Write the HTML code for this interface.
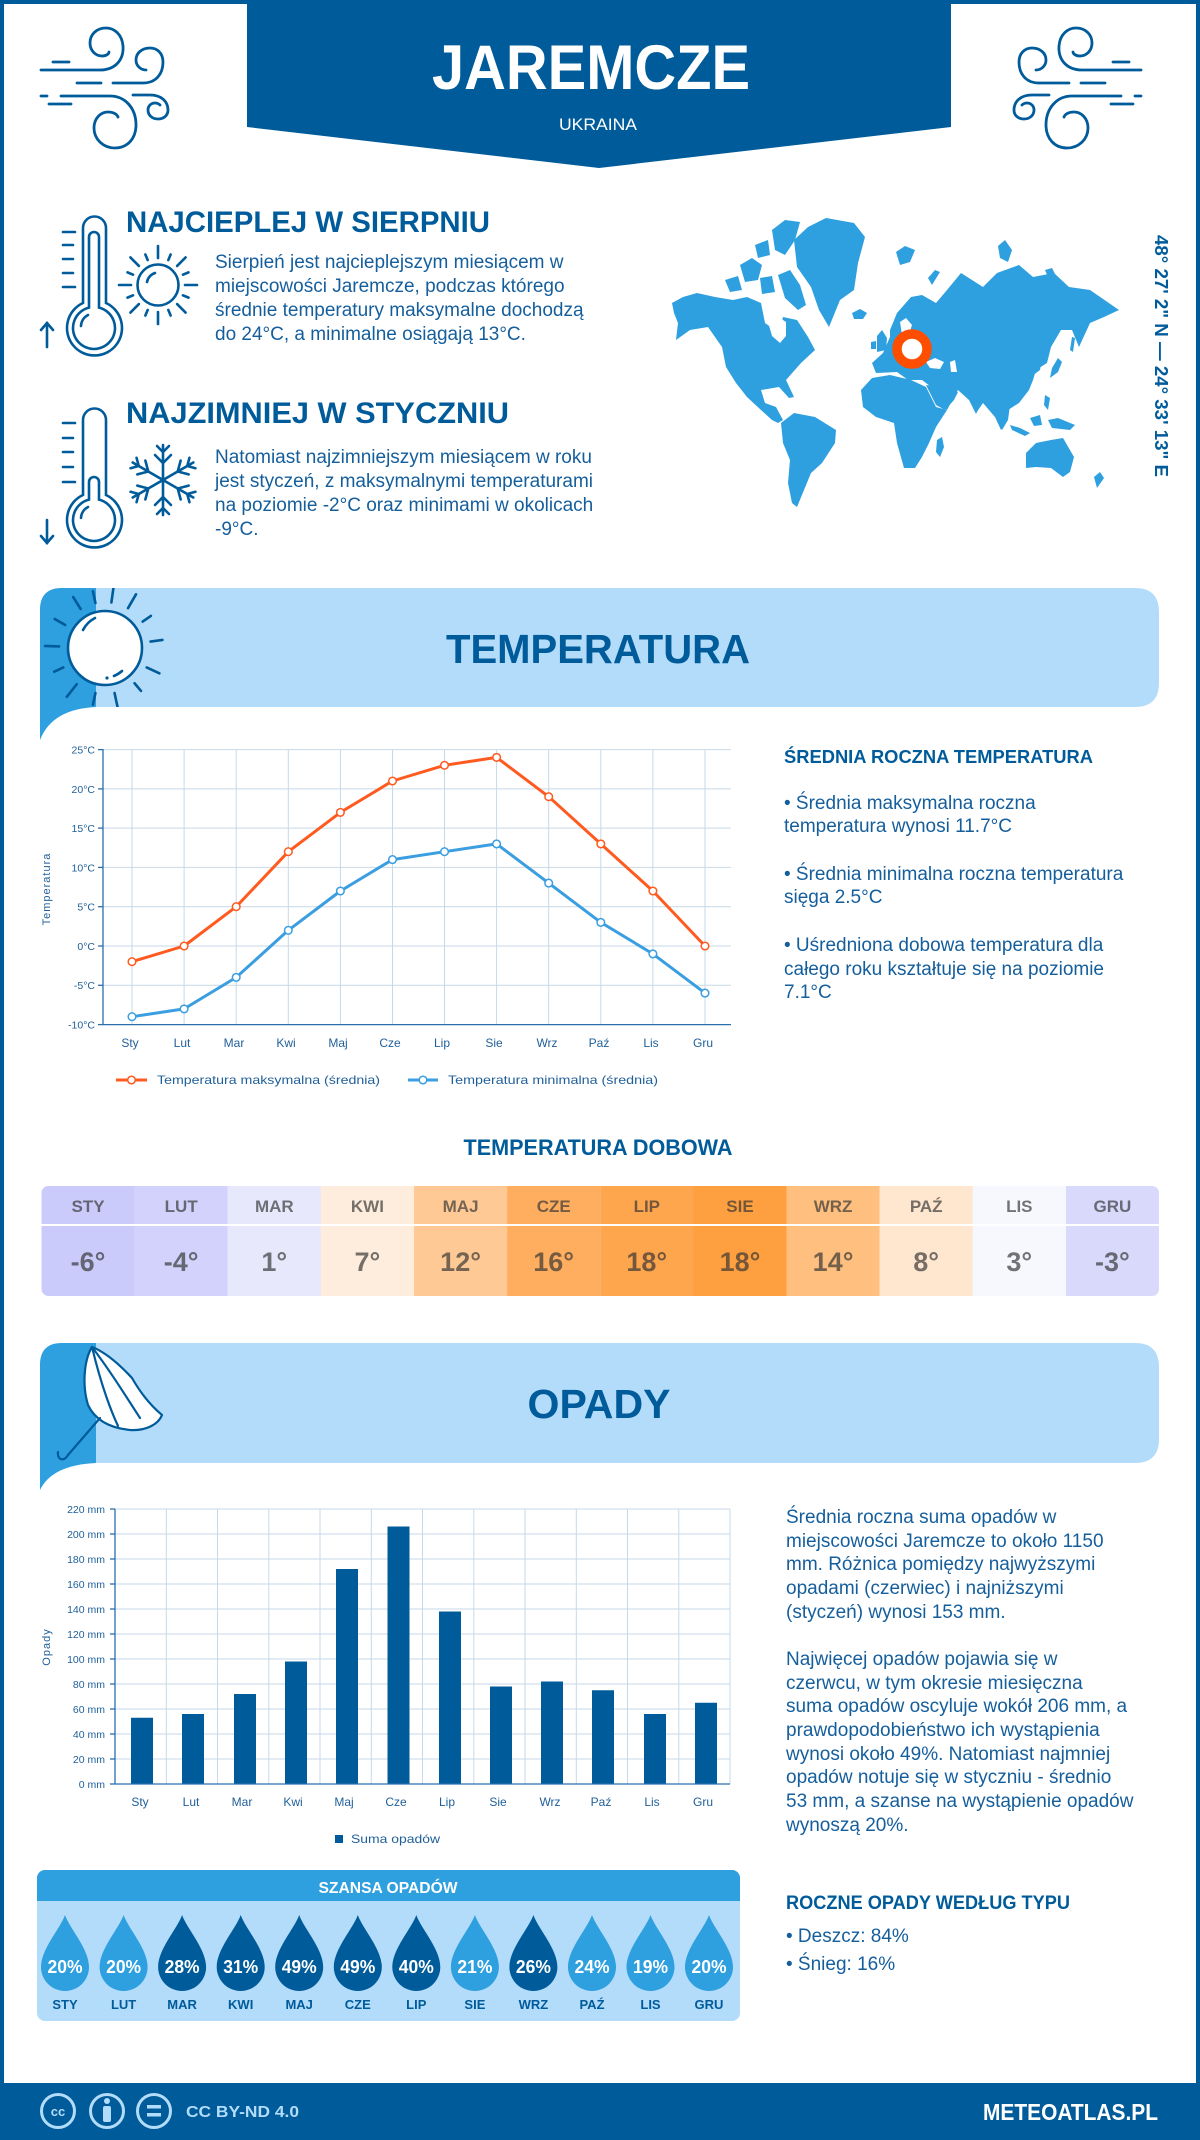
<!DOCTYPE html>
<html><head><meta charset="utf-8"><style>
html,body{margin:0;padding:0;background:#fff;}
svg{display:block;}
text{font-family:"Liberation Sans",sans-serif;}
</style></head><body>
<svg width="1200" height="2140" viewBox="0 0 1200 2140" xmlns="http://www.w3.org/2000/svg">
<rect x="0" y="0" width="1200" height="2140" fill="#fff"/>
<!-- frame -->
<rect x="0" y="0" width="1200" height="4" fill="#005b9a"/>
<rect x="0" y="0" width="4" height="2090" fill="#005b9a"/>
<rect x="1196" y="0" width="4" height="2090" fill="#005b9a"/>

<!-- header banner -->
<polygon points="247,0 951,0 951,127 599,168 247,127" fill="#005b9a"/>
<text x="591" y="89" font-size="63" font-weight="bold" fill="#fff" text-anchor="middle" textLength="318" lengthAdjust="spacingAndGlyphs">JAREMCZE</text>
<text x="598" y="130" font-size="16.5" fill="#fff" text-anchor="middle" textLength="78" lengthAdjust="spacingAndGlyphs">UKRAINA</text>

<!-- wind icons -->
<g fill="none" stroke="#005b9a" stroke-width="2.8" stroke-linecap="round">
<line x1="53" y1="62" x2="69" y2="62"/>
<path d="M41,70 L100,70 C115,70 124,60 123,46 C122,34 114,28 106,28 C96,28 90,35 90,43 C90,51 96,56 102,56 C106,56 109,54 109,52"/>
<line x1="77" y1="83" x2="101" y2="83"/>
<path d="M113,83 L143,83 C156,83 163,74 163,62 C163,53 157,48 150,48 C142,48 136,53 136,60 C136,66 141,70 146,70"/>
<line x1="41" y1="96" x2="47" y2="96"/>
<path d="M61,96 L110,96 C125,96 136,108 136,125 C136,139 127,148 115,148 C103,148 94,139 94,128 C94,118 101,112 108,112 C113,112 117,114 118,117"/>
<line x1="49" y1="104" x2="71" y2="104"/>
<path d="M133,95 L150,95 C162,95 168,102 168,110 C168,116 163,119 158,119 C152,119 148,115 148,110 C148,106 151,103 155,103 C157,103 159,104 160,105"/>
</g>
<g fill="none" stroke="#005b9a" stroke-width="2.8" stroke-linecap="round" transform="translate(1182,0) scale(-1,1)">
<line x1="53" y1="62" x2="69" y2="62"/>
<path d="M41,70 L100,70 C115,70 124,60 123,46 C122,34 114,28 106,28 C96,28 90,35 90,43 C90,51 96,56 102,56 C106,56 109,54 109,52"/>
<line x1="77" y1="83" x2="101" y2="83"/>
<path d="M113,83 L143,83 C156,83 163,74 163,62 C163,53 157,48 150,48 C142,48 136,53 136,60 C136,66 141,70 146,70"/>
<line x1="41" y1="96" x2="47" y2="96"/>
<path d="M61,96 L110,96 C125,96 136,108 136,125 C136,139 127,148 115,148 C103,148 94,139 94,128 C94,118 101,112 108,112 C113,112 117,114 118,117"/>
<line x1="49" y1="104" x2="71" y2="104"/>
<path d="M133,95 L150,95 C162,95 168,102 168,110 C168,116 163,119 158,119 C152,119 148,115 148,110 C148,106 151,103 155,103 C157,103 159,104 160,105"/>
</g>

<!-- thermometer 1 -->
<g fill="none" stroke="#005b9a" stroke-width="2.6" stroke-linecap="round">
<path d="M83,303 L83,228 A11.5,11.5 0 0 1 106,228 L106,303 A27.5,27.5 0 1 1 83,303 Z"/>
<path d="M89,307.6 L89,237 A5,5 0 0 1 99,237 L99,307.6 A21,21 0 1 1 89,307.6 Z"/>
<path d="M81,326 A13,13 0 0 1 88,315"/>
<line x1="63" y1="232" x2="75" y2="232"/><line x1="63" y1="245" x2="73" y2="245"/><line x1="63" y1="259" x2="73" y2="259"/><line x1="63" y1="273" x2="73" y2="273"/><line x1="63" y1="287" x2="75" y2="287"/>
<line x1="47" y1="347" x2="47" y2="323"/><polyline points="41,330 47,323 53,330"/>
</g>
<!-- sun 1 -->
<g fill="none" stroke="#005b9a" stroke-width="2.6" stroke-linecap="round">
<circle cx="158" cy="285" r="20.5"/>
<path d="M147,282 A12,12 0 0 1 155,273"/>
<line x1="158" y1="258" x2="158" y2="246"/>
<line x1="158" y1="258" x2="158" y2="246" transform="rotate(45 158 285)"/>
<line x1="158" y1="258" x2="158" y2="246" transform="rotate(90 158 285)"/>
<line x1="158" y1="258" x2="158" y2="246" transform="rotate(135 158 285)"/>
<line x1="158" y1="258" x2="158" y2="246" transform="rotate(180 158 285)"/>
<line x1="158" y1="258" x2="158" y2="246" transform="rotate(225 158 285)"/>
<line x1="158" y1="258" x2="158" y2="246" transform="rotate(270 158 285)"/>
<line x1="158" y1="258" x2="158" y2="246" transform="rotate(315 158 285)"/>
<line x1="158" y1="258" x2="158" y2="252" transform="rotate(22.5 158 285)"/>
<line x1="158" y1="258" x2="158" y2="252" transform="rotate(67.5 158 285)"/>
<line x1="158" y1="258" x2="158" y2="252" transform="rotate(112.5 158 285)"/>
<line x1="158" y1="258" x2="158" y2="252" transform="rotate(157.5 158 285)"/>
<line x1="158" y1="258" x2="158" y2="252" transform="rotate(202.5 158 285)"/>
<line x1="158" y1="258" x2="158" y2="252" transform="rotate(247.5 158 285)"/>
<line x1="158" y1="258" x2="158" y2="252" transform="rotate(292.5 158 285)"/>
<line x1="158" y1="258" x2="158" y2="252" transform="rotate(337.5 158 285)"/>
</g>
<text x="126" y="232" font-size="30" font-weight="bold" fill="#005b9a" textLength="364" lengthAdjust="spacingAndGlyphs">NAJCIEPLEJ W SIERPNIU</text>
<g font-size="19" fill="#155e9c">
<text x="215" y="268">Sierpień jest najcieplejszym miesiącem w</text>
<text x="215" y="292">miejscowości Jaremcze, podczas którego</text>
<text x="215" y="316">średnie temperatury maksymalne dochodzą</text>
<text x="215" y="340">do 24°C, a minimalne osiągają 13°C.</text>
</g>

<!-- thermometer 2 -->
<g fill="none" stroke="#005b9a" stroke-width="2.6" stroke-linecap="round">
<path d="M83,495 L83,420 A11.5,11.5 0 0 1 106,420 L106,495 A27.5,27.5 0 1 1 83,495 Z"/>
<path d="M89,499.6 L89,482 A5,5 0 0 1 99,482 L99,499.6 A21,21 0 1 1 89,499.6 Z"/>
<path d="M81,518 A13,13 0 0 1 88,507"/>
<line x1="63" y1="423" x2="75" y2="423"/><line x1="63" y1="438" x2="73" y2="438"/><line x1="63" y1="452" x2="73" y2="452"/><line x1="63" y1="467" x2="73" y2="467"/><line x1="63" y1="482" x2="75" y2="482"/>
<line x1="47" y1="520" x2="47" y2="543"/><polyline points="41,536 47,543 53,536"/>
</g>
<!-- snowflake -->
<g fill="none" stroke="#005b9a" stroke-width="2.6" stroke-linecap="round">
<g><line x1="163" y1="480" x2="163" y2="445"/><polyline points="155,455 163,463 171,455"/><polyline points="157,446 163,452 169,446"/></g>
<g transform="rotate(60 163 480)"><line x1="163" y1="480" x2="163" y2="445"/><polyline points="155,455 163,463 171,455"/><polyline points="157,446 163,452 169,446"/></g>
<g transform="rotate(120 163 480)"><line x1="163" y1="480" x2="163" y2="445"/><polyline points="155,455 163,463 171,455"/><polyline points="157,446 163,452 169,446"/></g>
<g transform="rotate(180 163 480)"><line x1="163" y1="480" x2="163" y2="445"/><polyline points="155,455 163,463 171,455"/><polyline points="157,446 163,452 169,446"/></g>
<g transform="rotate(240 163 480)"><line x1="163" y1="480" x2="163" y2="445"/><polyline points="155,455 163,463 171,455"/><polyline points="157,446 163,452 169,446"/></g>
<g transform="rotate(300 163 480)"><line x1="163" y1="480" x2="163" y2="445"/><polyline points="155,455 163,463 171,455"/><polyline points="157,446 163,452 169,446"/></g>
</g>
<text x="126" y="423" font-size="30" font-weight="bold" fill="#005b9a" textLength="383" lengthAdjust="spacingAndGlyphs">NAJZIMNIEJ W STYCZNIU</text>
<g font-size="19" fill="#155e9c">
<text x="215" y="463">Natomiast najzimniejszym miesiącem w roku</text>
<text x="215" y="487">jest styczeń, z maksymalnymi temperaturami</text>
<text x="215" y="511">na poziomie -2°C oraz minimami w okolicach</text>
<text x="215" y="535">-9°C.</text>
</g>

<!-- world map -->
<g fill="#2e9fdf">
<!-- North America -->
<path d="M672,303 L683,297 L697,293 L715,297 L733,300 L747,297 L761,303 L765,323 L779,333 L783,317 L797,320 L808,337 L815,350 L801,363 L786,380 L794,397 L789,398 L779,387 L761,390 L765,403 L776,407 L783,420 L778,423 L772,420 L761,410 L747,397 L736,383 L726,367 L722,347 L708,327 L690,330 L676,340 L678,323 L674,313 Z"/>
<!-- Arctic islands -->
<path d="M772,230 L785,220 L800,222 L795,240 L785,255 L775,250 Z"/>
<path d="M778,275 L790,270 L800,285 L806,305 L798,310 L785,298 Z"/>
<path d="M740,265 L752,258 L762,265 L758,280 L745,282 Z"/>
<path d="M725,280 L738,276 L742,290 L730,292 Z"/>
<path d="M760,278 L772,276 L775,292 L762,294 Z"/>
<path d="M755,245 L768,240 L770,255 L758,258 Z"/>
<!-- Greenland -->
<path d="M826,218 L854,223 L865,237 L858,263 L854,290 L840,300 L829,327 L819,310 L811,287 L797,267 L794,240 L808,227 Z"/>
<!-- Iceland -->
<path d="M852,313 L860,309 L867,313 L863,319 L854,319 Z"/>
<!-- UK / Ireland -->
<path d="M877,336 L882,330 L887,338 L886,350 L877,352 Z"/>
<path d="M871,342 L876,341 L876,349 L871,349 Z"/>
<!-- Eurasia -->
<path d="M890,330 L897,313 L911,297 L922,295 L936,303 L947,290 L961,273 L983,287 L997,273 L1019,265 L1033,277 L1054,273 L1069,287 L1090,290 L1119,310 L1104,317 L1090,323 L1079,347 L1072,330 L1061,330 L1051,347 L1047,363 L1036,370 L1033,380 L1029,390 L1019,403 L1008,410 L1004,423 L1001,430 L995,417 L983,403 L976,413 L969,397 L958,390 L954,397 L947,410 L936,403 L931,387 L926,383 L922,380 L908,380 L904,377 L897,372 L876,373 L872,363 L883,353 L890,337 Z"/>
<path d="M940,300 L1060,285 L1075,320 L1045,340 L1040,370 L1000,400 L960,385 L925,375 L910,340 Z"/>
<path d="M926,385 L945,388 L958,392 L954,400 L945,410 L936,405 Z"/>
<path d="M958,390 L975,392 L983,400 L976,414 L969,400 Z"/>
<path d="M995,400 L1010,405 L1008,420 L1002,430 L996,418 Z"/>
<!-- Africa -->
<path d="M861,390 L872,378 L890,375 L911,380 L926,387 L936,407 L947,410 L936,427 L929,443 L922,457 L915,468 L904,468 L897,443 L894,423 L876,417 L863,407 Z"/>
<path d="M937,440 L942,437 L944,447 L940,457 L936,452 Z"/>
<!-- South America -->
<path d="M781,423 L794,413 L815,417 L836,430 L835,443 L822,463 L811,473 L804,490 L797,507 L792,503 L788,483 L790,460 L783,443 Z"/>
<!-- Australia -->
<path d="M1026,453 L1036,443 L1051,440 L1063,438 L1074,457 L1070,472 L1063,477 L1051,468 L1036,467 L1026,468 Z"/>
<path d="M1094,477 L1100,472 L1104,478 L1097,488 Z"/>
<!-- Asia islands -->
<path d="M1010,425 L1020,428 L1030,433 L1025,436 L1012,430 Z"/>
<path d="M1030,418 L1040,415 L1042,425 L1034,426 Z"/>
<path d="M1048,420 L1058,418 L1075,425 L1070,430 L1052,428 Z"/>
<path d="M1045,395 L1050,398 L1048,410 L1044,405 Z"/>
<path d="M1052,368 L1058,358 L1062,362 L1058,372 L1050,378 Z"/>
<path d="M1072,337 L1075,338 L1073,352 L1070,350 Z"/>
<path d="M928,278 L935,270 L940,272 L932,285 Z"/>
<path d="M896,252 L905,246 L915,250 L910,262 L900,265 Z"/>
<path d="M998,246 L1005,240 L1012,250 L1008,262 L1000,258 Z"/>
<path d="M1045,270 L1052,268 L1056,276 L1048,277 Z"/>
</g>
<g fill="#fff">
<path d="M768,322 L780,318 L786,322 L786,336 L780,343 L772,336 Z"/>
<path d="M900,322 L906,318 L912,325 L908,338 L902,335 Z"/>
<path d="M926,362 L935,358 L944,362 L940,369 L930,368 Z"/>
<path d="M950,362 L955,360 L957,372 L951,372 Z"/>
</g>
<circle cx="912" cy="349" r="15" fill="#fff" stroke="#ff4e00" stroke-width="9.5"/>
<text transform="translate(1155,356) rotate(90)" x="0" y="0" font-size="18" font-weight="bold" fill="#005b9a" text-anchor="middle" textLength="242" lengthAdjust="spacingAndGlyphs">48° 27' 2" N — 24° 33' 13" E</text>

<!-- TEMPERATURA band -->
<path d="M40,740 L40,610 Q40,588 62,588 L1135,588 Q1159,588 1159,612 L1159,683 Q1159,707 1135,707 L96,707 Q50,707 40,740 Z" fill="#b3dcfb"/>
<path d="M40,740 L40,610 Q40,588 62,588 L96,588 L96,707 Q52,709 40,740 Z" fill="#2e9fdf"/>
<clipPath id="band1"><rect x="40" y="588" width="200" height="119"/></clipPath>
<g clip-path="url(#band1)" stroke="#005b9a" stroke-width="2.6" stroke-linecap="round" fill="none">
<line x1="105" y1="602" x2="105" y2="586" transform="rotate(8 105 648)"/>
<line x1="105" y1="602" x2="105" y2="590" transform="rotate(-12 105 648)"/>
<line x1="105" y1="602" x2="105" y2="586" transform="rotate(30 105 648)"/>
<line x1="105" y1="602" x2="105" y2="592" transform="rotate(55 105 648)"/>
<line x1="105" y1="602" x2="105" y2="590" transform="rotate(82 105 648)"/>
<line x1="105" y1="602" x2="105" y2="588" transform="rotate(115 105 648)"/>
<line x1="105" y1="602" x2="105" y2="592" transform="rotate(140 105 648)"/>
<line x1="105" y1="602" x2="105" y2="586" transform="rotate(168 105 648)"/>
<line x1="105" y1="602" x2="105" y2="590" transform="rotate(192 105 648)"/>
<line x1="105" y1="602" x2="105" y2="586" transform="rotate(218 105 648)"/>
<line x1="105" y1="602" x2="105" y2="592" transform="rotate(245 105 648)"/>
<line x1="105" y1="602" x2="105" y2="588" transform="rotate(272 105 648)"/>
<line x1="105" y1="602" x2="105" y2="590" transform="rotate(300 105 648)"/>
<line x1="105" y1="602" x2="105" y2="588" transform="rotate(328 105 648)"/>
</g>
<circle cx="105" cy="648" r="37" fill="#fff" stroke="#005b9a" stroke-width="2.6"/>
<path d="M83,630 A28,28 0 0 1 95,618" fill="none" stroke="#005b9a" stroke-width="2.6" stroke-linecap="round"/>
<path d="M114,676 A28,28 0 0 0 122,671" fill="none" stroke="#005b9a" stroke-width="2.6" stroke-linecap="round"/>
<circle cx="107" cy="678" r="1.6" fill="#005b9a"/>
<text x="598" y="663" font-size="41" font-weight="bold" fill="#005b9a" text-anchor="middle" textLength="304" lengthAdjust="spacingAndGlyphs">TEMPERATURA</text>

<!-- temperature chart -->
<g stroke="#c7d9e8" stroke-width="1">
<line x1="103" y1="749.6" x2="731" y2="749.6"/><line x1="103" y1="788.9" x2="731" y2="788.9"/><line x1="103" y1="828.1" x2="731" y2="828.1"/><line x1="103" y1="867.4" x2="731" y2="867.4"/><line x1="103" y1="906.7" x2="731" y2="906.7"/><line x1="103" y1="946" x2="731" y2="946"/><line x1="103" y1="985.3" x2="731" y2="985.3"/>
<line x1="132" y1="750" x2="132" y2="1025"/><line x1="184.1" y1="750" x2="184.1" y2="1025"/><line x1="236.2" y1="750" x2="236.2" y2="1025"/><line x1="288.3" y1="750" x2="288.3" y2="1025"/><line x1="340.4" y1="750" x2="340.4" y2="1025"/><line x1="392.5" y1="750" x2="392.5" y2="1025"/><line x1="444.5" y1="750" x2="444.5" y2="1025"/><line x1="496.6" y1="750" x2="496.6" y2="1025"/><line x1="548.7" y1="750" x2="548.7" y2="1025"/><line x1="600.8" y1="750" x2="600.8" y2="1025"/><line x1="652.9" y1="750" x2="652.9" y2="1025"/><line x1="705" y1="750" x2="705" y2="1025"/>
</g>
<g stroke="#2a6fad" stroke-width="1.3">
<line x1="103" y1="749" x2="103" y2="1025"/>
<line x1="103" y1="1024.6" x2="731" y2="1024.6"/>
<line x1="98" y1="749.6" x2="103" y2="749.6"/><line x1="98" y1="788.9" x2="103" y2="788.9"/><line x1="98" y1="828.1" x2="103" y2="828.1"/><line x1="98" y1="867.4" x2="103" y2="867.4"/><line x1="98" y1="906.7" x2="103" y2="906.7"/><line x1="98" y1="946" x2="103" y2="946"/><line x1="98" y1="985.3" x2="103" y2="985.3"/><line x1="98" y1="1024.6" x2="103" y2="1024.6"/>
</g>
<g font-size="10.5" fill="#1f5f99" text-anchor="end">
<text x="95" y="753.5">25°C</text><text x="95" y="792.8">20°C</text><text x="95" y="832">15°C</text><text x="95" y="871.3">10°C</text><text x="95" y="910.6">5°C</text><text x="95" y="950">0°C</text><text x="95" y="989.2">-5°C</text><text x="95" y="1028.5">-10°C</text>
</g>
<g font-size="12" fill="#1f5f99" text-anchor="middle">
<text x="130" y="1047">Sty</text><text x="182" y="1047">Lut</text><text x="234" y="1047">Mar</text><text x="286" y="1047">Kwi</text><text x="338" y="1047">Maj</text><text x="390" y="1047">Cze</text><text x="442" y="1047">Lip</text><text x="494" y="1047">Sie</text><text x="547" y="1047">Wrz</text><text x="599" y="1047">Paź</text><text x="651" y="1047">Lis</text><text x="703" y="1047">Gru</text>
</g>
<text transform="translate(50,889) rotate(-90)" font-size="11" fill="#1f5f99" text-anchor="middle" letter-spacing="1">Temperatura</text>
<polyline fill="none" stroke="#ff5a1f" stroke-width="3" stroke-linejoin="round" points="132,961.7 184.1,946 236.2,906.7 288.3,851.7 340.4,812.4 392.5,781 444.5,765.3 496.6,757.4 548.7,796.7 600.8,843.9 652.9,891 705,946"/>
<polyline fill="none" stroke="#3a9ee0" stroke-width="3" stroke-linejoin="round" points="132,1016.7 184.1,1008.9 236.2,977.4 288.3,930.3 340.4,891 392.5,859.6 444.5,851.7 496.6,843.9 548.7,883.1 600.8,922.4 652.9,953.9 705,993.1"/>
<g fill="#fff" stroke="#ff5a1f" stroke-width="1.5">
<circle cx="132" cy="961.7" r="3.8"/><circle cx="184.1" cy="946" r="3.8"/><circle cx="236.2" cy="906.7" r="3.8"/><circle cx="288.3" cy="851.7" r="3.8"/><circle cx="340.4" cy="812.4" r="3.8"/><circle cx="392.5" cy="781" r="3.8"/><circle cx="444.5" cy="765.3" r="3.8"/><circle cx="496.6" cy="757.4" r="3.8"/><circle cx="548.7" cy="796.7" r="3.8"/><circle cx="600.8" cy="843.9" r="3.8"/><circle cx="652.9" cy="891" r="3.8"/><circle cx="705" cy="946" r="3.8"/>
</g>
<g fill="#fff" stroke="#3a9ee0" stroke-width="1.5">
<circle cx="132" cy="1016.7" r="3.8"/><circle cx="184.1" cy="1008.9" r="3.8"/><circle cx="236.2" cy="977.4" r="3.8"/><circle cx="288.3" cy="930.3" r="3.8"/><circle cx="340.4" cy="891" r="3.8"/><circle cx="392.5" cy="859.6" r="3.8"/><circle cx="444.5" cy="851.7" r="3.8"/><circle cx="496.6" cy="843.9" r="3.8"/><circle cx="548.7" cy="883.1" r="3.8"/><circle cx="600.8" cy="922.4" r="3.8"/><circle cx="652.9" cy="953.9" r="3.8"/><circle cx="705" cy="993.1" r="3.8"/>
</g>
<line x1="116" y1="1080" x2="147" y2="1080" stroke="#ff5a1f" stroke-width="3"/>
<circle cx="131.5" cy="1080" r="3.8" fill="#fff" stroke="#ff5a1f" stroke-width="1.5"/>
<text x="157" y="1084" font-size="12" fill="#1f5f99" textLength="223" lengthAdjust="spacingAndGlyphs">Temperatura maksymalna (średnia)</text>
<line x1="408" y1="1080" x2="438" y2="1080" stroke="#3a9ee0" stroke-width="3"/>
<circle cx="423" cy="1080" r="3.8" fill="#fff" stroke="#3a9ee0" stroke-width="1.5"/>
<text x="448" y="1084" font-size="12" fill="#1f5f99" textLength="210" lengthAdjust="spacingAndGlyphs">Temperatura minimalna (średnia)</text>

<text x="784" y="763" font-size="18" font-weight="bold" fill="#005b9a" textLength="309" lengthAdjust="spacingAndGlyphs">ŚREDNIA ROCZNA TEMPERATURA</text>
<g font-size="19" fill="#155e9c">
<text x="784" y="809">• Średnia maksymalna roczna</text>
<text x="784" y="832">temperatura wynosi 11.7°C</text>
<text x="784" y="880">• Średnia minimalna roczna temperatura</text>
<text x="784" y="903">sięga 2.5°C</text>
<text x="784" y="951">• Uśredniona dobowa temperatura dla</text>
<text x="784" y="975">całego roku kształtuje się na poziomie</text>
<text x="784" y="998">7.1°C</text>
</g>

<!-- TEMPERATURA DOBOWA -->
<text x="598" y="1155" font-size="22" font-weight="bold" fill="#005b9a" text-anchor="middle" textLength="269" lengthAdjust="spacingAndGlyphs">TEMPERATURA DOBOWA</text>
<clipPath id="tbl"><rect x="41.5" y="1186" width="1117.5" height="110" rx="7"/></clipPath>
<g clip-path="url(#tbl)">
<rect x="41.5" y="1186" width="93.2" height="110" fill="#cbcbfb"/>
<rect x="134.6" y="1186" width="93.2" height="110" fill="#d2d2fc"/>
<rect x="227.8" y="1186" width="93.2" height="110" fill="#e8e8fd"/>
<rect x="320.9" y="1186" width="93.2" height="110" fill="#feeddd"/>
<rect x="414" y="1186" width="93.2" height="110" fill="#fec994"/>
<rect x="507.1" y="1186" width="93.2" height="110" fill="#feae5e"/>
<rect x="600.3" y="1186" width="93.2" height="110" fill="#fea64e"/>
<rect x="693.4" y="1186" width="93.2" height="110" fill="#fea040"/>
<rect x="786.5" y="1186" width="93.2" height="110" fill="#febf7f"/>
<rect x="879.6" y="1186" width="93.2" height="110" fill="#fee6cf"/>
<rect x="972.8" y="1186" width="93.2" height="110" fill="#f7f8fe"/>
<rect x="1065.9" y="1186" width="93.2" height="110" fill="#d9d9fc"/>
<rect x="41.5" y="1224" width="1117.5" height="2" fill="#fff"/>
</g>
<g fill="#333" fill-opacity="0.68" font-weight="bold" text-anchor="middle">
<g font-size="17">
<text x="88" y="1212">STY</text><text x="181.2" y="1212">LUT</text><text x="274.3" y="1212">MAR</text><text x="367.4" y="1212">KWI</text><text x="460.6" y="1212">MAJ</text><text x="553.7" y="1212">CZE</text><text x="646.8" y="1212">LIP</text><text x="740" y="1212">SIE</text><text x="833.1" y="1212">WRZ</text><text x="926.2" y="1212">PAŹ</text><text x="1019.3" y="1212">LIS</text><text x="1112.4" y="1212">GRU</text>
</g>
<g font-size="27">
<text x="88" y="1271">-6°</text><text x="181.2" y="1271">-4°</text><text x="274.3" y="1271">1°</text><text x="367.4" y="1271">7°</text><text x="460.6" y="1271">12°</text><text x="553.7" y="1271">16°</text><text x="646.8" y="1271">18°</text><text x="740" y="1271">18°</text><text x="833.1" y="1271">14°</text><text x="926.2" y="1271">8°</text><text x="1019.3" y="1271">3°</text><text x="1112.4" y="1271">-3°</text>
</g>
</g>

<!-- OPADY band -->
<path d="M40,1490 L40,1365 Q40,1343 62,1343 L1135,1343 Q1159,1343 1159,1367 L1159,1439 Q1159,1463 1135,1463 L96,1463 Q50,1463 40,1490 Z" fill="#b3dcfb"/>
<path d="M40,1490 L40,1365 Q40,1343 62,1343 L96,1343 L96,1463 Q52,1465 40,1490 Z" fill="#2e9fdf"/>
<g stroke="#005b9a" stroke-width="2.2" stroke-linecap="round" stroke-linejoin="round">
<path d="M92,1347 C84,1360 82,1385 88,1405 C95,1420 110,1428 130,1430 C145,1431 158,1425 162,1415 C150,1405 140,1392 132,1378 C120,1365 105,1352 92,1347 Z" fill="#fff"/>
<path d="M92,1347 C98,1372 106,1400 118,1426" fill="none"/>
<path d="M92,1347 C108,1368 122,1390 140,1418" fill="none"/>
<path d="M100,1418 L68,1455 C64,1462 57,1460 58,1452" fill="none"/>
</g>
<text x="599" y="1418" font-size="41" font-weight="bold" fill="#005b9a" text-anchor="middle" textLength="143" lengthAdjust="spacingAndGlyphs">OPADY</text>

<!-- precip chart -->
<g stroke="#c7d9e8" stroke-width="1">
<line x1="115" y1="1509" x2="730" y2="1509"/><line x1="115" y1="1534" x2="730" y2="1534"/><line x1="115" y1="1559" x2="730" y2="1559"/><line x1="115" y1="1584" x2="730" y2="1584"/><line x1="115" y1="1609" x2="730" y2="1609"/><line x1="115" y1="1634" x2="730" y2="1634"/><line x1="115" y1="1659" x2="730" y2="1659"/><line x1="115" y1="1684" x2="730" y2="1684"/><line x1="115" y1="1709" x2="730" y2="1709"/><line x1="115" y1="1734" x2="730" y2="1734"/><line x1="115" y1="1759" x2="730" y2="1759"/>
<line x1="166.3" y1="1509" x2="166.3" y2="1784"/><line x1="217.5" y1="1509" x2="217.5" y2="1784"/><line x1="268.8" y1="1509" x2="268.8" y2="1784"/><line x1="320" y1="1509" x2="320" y2="1784"/><line x1="371.3" y1="1509" x2="371.3" y2="1784"/><line x1="422.5" y1="1509" x2="422.5" y2="1784"/><line x1="473.8" y1="1509" x2="473.8" y2="1784"/><line x1="525" y1="1509" x2="525" y2="1784"/><line x1="576.3" y1="1509" x2="576.3" y2="1784"/><line x1="627.5" y1="1509" x2="627.5" y2="1784"/><line x1="678.8" y1="1509" x2="678.8" y2="1784"/><line x1="730" y1="1509" x2="730" y2="1784"/>
</g>
<g fill="#005b9a">
<rect x="131" y="1717.75" width="22" height="66.25"/>
<rect x="182" y="1714" width="22" height="70"/>
<rect x="234" y="1694" width="22" height="90"/>
<rect x="285" y="1661.5" width="22" height="122.5"/>
<rect x="336" y="1569" width="22" height="215"/>
<rect x="387.5" y="1526.5" width="22" height="257.5"/>
<rect x="439" y="1611.5" width="22" height="172.5"/>
<rect x="490" y="1686.5" width="22" height="97.5"/>
<rect x="541" y="1681.5" width="22" height="102.5"/>
<rect x="592" y="1690.25" width="22" height="93.75"/>
<rect x="644" y="1714" width="22" height="70"/>
<rect x="695" y="1702.75" width="22" height="81.25"/>
</g>
<g stroke="#2a6fad" stroke-width="1.3">
<line x1="115" y1="1509" x2="115" y2="1784"/>
<line x1="115" y1="1784" x2="730" y2="1784"/>
<line x1="110" y1="1509" x2="115" y2="1509"/><line x1="110" y1="1534" x2="115" y2="1534"/><line x1="110" y1="1559" x2="115" y2="1559"/><line x1="110" y1="1584" x2="115" y2="1584"/><line x1="110" y1="1609" x2="115" y2="1609"/><line x1="110" y1="1634" x2="115" y2="1634"/><line x1="110" y1="1659" x2="115" y2="1659"/><line x1="110" y1="1684" x2="115" y2="1684"/><line x1="110" y1="1709" x2="115" y2="1709"/><line x1="110" y1="1734" x2="115" y2="1734"/><line x1="110" y1="1759" x2="115" y2="1759"/><line x1="110" y1="1784" x2="115" y2="1784"/>
</g>
<g font-size="10.5" fill="#1f5f99" text-anchor="end">
<text x="105" y="1513">220 mm</text><text x="105" y="1538">200 mm</text><text x="105" y="1563">180 mm</text><text x="105" y="1588">160 mm</text><text x="105" y="1613">140 mm</text><text x="105" y="1638">120 mm</text><text x="105" y="1663">100 mm</text><text x="105" y="1688">80 mm</text><text x="105" y="1713">60 mm</text><text x="105" y="1738">40 mm</text><text x="105" y="1763">20 mm</text><text x="105" y="1788">0 mm</text>
</g>
<g font-size="12" fill="#1f5f99" text-anchor="middle">
<text x="140" y="1806">Sty</text><text x="191" y="1806">Lut</text><text x="242" y="1806">Mar</text><text x="293" y="1806">Kwi</text><text x="344" y="1806">Maj</text><text x="396" y="1806">Cze</text><text x="447" y="1806">Lip</text><text x="498" y="1806">Sie</text><text x="550" y="1806">Wrz</text><text x="601" y="1806">Paź</text><text x="652" y="1806">Lis</text><text x="703" y="1806">Gru</text>
</g>
<text transform="translate(50,1647) rotate(-90)" font-size="11" fill="#1f5f99" text-anchor="middle" letter-spacing="1">Opady</text>
<rect x="335" y="1835" width="8" height="8" fill="#005b9a"/>
<text x="351" y="1843" font-size="12" fill="#1f5f99" textLength="89" lengthAdjust="spacingAndGlyphs">Suma opadów</text>

<!-- precip right text -->
<g font-size="19" fill="#155e9c">
<text x="786" y="1523">Średnia roczna suma opadów w</text>
<text x="786" y="1547">miejscowości Jaremcze to około 1150</text>
<text x="786" y="1570">mm. Różnica pomiędzy najwyższymi</text>
<text x="786" y="1594">opadami (czerwiec) i najniższymi</text>
<text x="786" y="1618">(styczeń) wynosi 153 mm.</text>
<text x="786" y="1665">Najwięcej opadów pojawia się w</text>
<text x="786" y="1689">czerwcu, w tym okresie miesięczna</text>
<text x="786" y="1712">suma opadów oscyluje wokół 206 mm, a</text>
<text x="786" y="1736">prawdopodobieństwo ich wystąpienia</text>
<text x="786" y="1760">wynosi około 49%. Natomiast najmniej</text>
<text x="786" y="1783">opadów notuje się w styczniu - średnio</text>
<text x="786" y="1807">53 mm, a szanse na wystąpienie opadów</text>
<text x="786" y="1831">wynoszą 20%.</text>
</g>
<text x="786" y="1909" font-size="19" font-weight="bold" fill="#005b9a" textLength="284" lengthAdjust="spacingAndGlyphs">ROCZNE OPADY WEDŁUG TYPU</text>
<text x="786" y="1942" font-size="19" fill="#155e9c">• Deszcz: 84%</text>
<text x="786" y="1970" font-size="19" fill="#155e9c">• Śnieg: 16%</text>

<!-- SZANSA OPADÓW -->
<clipPath id="box"><rect x="37" y="1870" width="703" height="151" rx="8"/></clipPath>
<g clip-path="url(#box)">
<rect x="37" y="1870" width="703" height="151" fill="#b3dcfb"/>
<rect x="37" y="1870" width="703" height="31" fill="#2e9fdf"/>
</g>
<text x="388" y="1893" font-size="15.5" font-weight="bold" fill="#fff" text-anchor="middle" textLength="139" lengthAdjust="spacingAndGlyphs">SZANSA OPADÓW</text>
<g>
<path transform="translate(65,1967)" d="M0,-52 C5,-38 24,-18 24,0 A24,24 0 1 1 -24,0 C-24,-18 -5,-38 0,-52 Z" fill="#2e9fdf"/>
<path transform="translate(123.6,1967)" d="M0,-52 C5,-38 24,-18 24,0 A24,24 0 1 1 -24,0 C-24,-18 -5,-38 0,-52 Z" fill="#2e9fdf"/>
<path transform="translate(182.1,1967)" d="M0,-52 C5,-38 24,-18 24,0 A24,24 0 1 1 -24,0 C-24,-18 -5,-38 0,-52 Z" fill="#005b9a"/>
<path transform="translate(240.7,1967)" d="M0,-52 C5,-38 24,-18 24,0 A24,24 0 1 1 -24,0 C-24,-18 -5,-38 0,-52 Z" fill="#005b9a"/>
<path transform="translate(299.2,1967)" d="M0,-52 C5,-38 24,-18 24,0 A24,24 0 1 1 -24,0 C-24,-18 -5,-38 0,-52 Z" fill="#005b9a"/>
<path transform="translate(357.8,1967)" d="M0,-52 C5,-38 24,-18 24,0 A24,24 0 1 1 -24,0 C-24,-18 -5,-38 0,-52 Z" fill="#005b9a"/>
<path transform="translate(416.3,1967)" d="M0,-52 C5,-38 24,-18 24,0 A24,24 0 1 1 -24,0 C-24,-18 -5,-38 0,-52 Z" fill="#005b9a"/>
<path transform="translate(474.9,1967)" d="M0,-52 C5,-38 24,-18 24,0 A24,24 0 1 1 -24,0 C-24,-18 -5,-38 0,-52 Z" fill="#2e9fdf"/>
<path transform="translate(533.4,1967)" d="M0,-52 C5,-38 24,-18 24,0 A24,24 0 1 1 -24,0 C-24,-18 -5,-38 0,-52 Z" fill="#005b9a"/>
<path transform="translate(592,1967)" d="M0,-52 C5,-38 24,-18 24,0 A24,24 0 1 1 -24,0 C-24,-18 -5,-38 0,-52 Z" fill="#2e9fdf"/>
<path transform="translate(650.5,1967)" d="M0,-52 C5,-38 24,-18 24,0 A24,24 0 1 1 -24,0 C-24,-18 -5,-38 0,-52 Z" fill="#2e9fdf"/>
<path transform="translate(709,1967)" d="M0,-52 C5,-38 24,-18 24,0 A24,24 0 1 1 -24,0 C-24,-18 -5,-38 0,-52 Z" fill="#2e9fdf"/>
</g>
<g font-size="18" font-weight="bold" fill="#fff" text-anchor="middle">
<text x="65" y="1973" textLength="35" lengthAdjust="spacingAndGlyphs">20%</text><text x="123.6" y="1973" textLength="35" lengthAdjust="spacingAndGlyphs">20%</text><text x="182.1" y="1973" textLength="35" lengthAdjust="spacingAndGlyphs">28%</text><text x="240.7" y="1973" textLength="35" lengthAdjust="spacingAndGlyphs">31%</text><text x="299.2" y="1973" textLength="35" lengthAdjust="spacingAndGlyphs">49%</text><text x="357.8" y="1973" textLength="35" lengthAdjust="spacingAndGlyphs">49%</text><text x="416.3" y="1973" textLength="35" lengthAdjust="spacingAndGlyphs">40%</text><text x="474.9" y="1973" textLength="35" lengthAdjust="spacingAndGlyphs">21%</text><text x="533.4" y="1973" textLength="35" lengthAdjust="spacingAndGlyphs">26%</text><text x="592" y="1973" textLength="35" lengthAdjust="spacingAndGlyphs">24%</text><text x="650.5" y="1973" textLength="35" lengthAdjust="spacingAndGlyphs">19%</text><text x="709" y="1973" textLength="35" lengthAdjust="spacingAndGlyphs">20%</text>
</g>
<g font-size="13" font-weight="bold" fill="#005b9a" text-anchor="middle">
<text x="65" y="2009">STY</text><text x="123.6" y="2009">LUT</text><text x="182.1" y="2009">MAR</text><text x="240.7" y="2009">KWI</text><text x="299.2" y="2009">MAJ</text><text x="357.8" y="2009">CZE</text><text x="416.3" y="2009">LIP</text><text x="474.9" y="2009">SIE</text><text x="533.4" y="2009">WRZ</text><text x="592" y="2009">PAŹ</text><text x="650.5" y="2009">LIS</text><text x="709" y="2009">GRU</text>
</g>

<!-- footer -->
<rect x="0" y="2083" width="1200" height="57" fill="#005b9a"/>
<g fill="#005b9a" stroke="#b3dcfb" stroke-width="3">
<circle cx="58" cy="2111" r="16.5"/>
<circle cx="107" cy="2111" r="16.5"/>
<circle cx="154" cy="2111" r="16.5"/>
</g>
<text x="58" y="2116" font-size="13" font-weight="bold" fill="#b3dcfb" text-anchor="middle">cc</text>
<circle cx="107" cy="2101" r="3" fill="#b3dcfb"/>
<rect x="103" y="2106" width="8" height="16" rx="2" fill="#b3dcfb"/>
<rect x="147" y="2105" width="14" height="3.5" fill="#b3dcfb"/>
<rect x="147" y="2113" width="14" height="3.5" fill="#b3dcfb"/>
<text x="186" y="2117" font-size="16" font-weight="bold" fill="#b3dcfb" textLength="113" lengthAdjust="spacingAndGlyphs">CC BY-ND 4.0</text>
<text x="983" y="2120" font-size="23" font-weight="bold" fill="#fff" textLength="175" lengthAdjust="spacingAndGlyphs">METEOATLAS.PL</text>
</svg>
</body></html>
